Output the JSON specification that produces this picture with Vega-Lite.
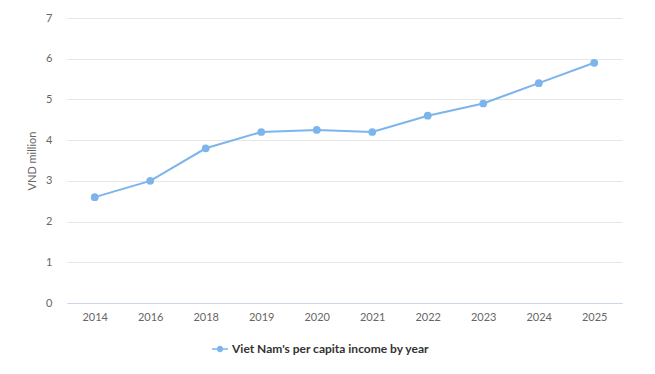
{
  "$schema": "https://vega.github.io/schema/vega-lite/v6.json",
  "width": 555,
  "height": 285,
  "autosize": "none",
  "padding": {"left": 67, "top": 18, "right": 33, "bottom": 71},
  "background": "#ffffff",
  "config": {
    "view": {"stroke": null},
    "font": "Lato"
  },
  "data": {
    "values": [
      {"year": "2014", "value": 2.6, "series": "Viet Nam's per capita income by year"},
      {"year": "2016", "value": 3.0, "series": "Viet Nam's per capita income by year"},
      {"year": "2018", "value": 3.8, "series": "Viet Nam's per capita income by year"},
      {"year": "2019", "value": 4.2, "series": "Viet Nam's per capita income by year"},
      {"year": "2020", "value": 4.25, "series": "Viet Nam's per capita income by year"},
      {"year": "2021", "value": 4.2, "series": "Viet Nam's per capita income by year"},
      {"year": "2022", "value": 4.6, "series": "Viet Nam's per capita income by year"},
      {"year": "2023", "value": 4.9, "series": "Viet Nam's per capita income by year"},
      {"year": "2024", "value": 5.4, "series": "Viet Nam's per capita income by year"},
      {"year": "2025", "value": 5.9, "series": "Viet Nam's per capita income by year"}
    ]
  },
  "mark": {"type": "line", "strokeWidth": 2, "point": {"filled": true, "size": 60, "opacity": 1}},
  "encoding": {
    "x": {
      "field": "year",
      "type": "ordinal",
      "sort": null,
      "scale": {"type": "point", "padding": 0.5},
      "axis": {
        "title": null,
        "labelAngle": 0,
        "labelFontSize": 11,
        "labelColor": "#666666",
        "labelPadding": 8,
        "ticks": false,
        "domainColor": "#ccd6eb",
        "grid": false
      }
    },
    "y": {
      "field": "value",
      "type": "quantitative",
      "scale": {"domain": [0, 7], "nice": false},
      "axis": {
        "title": "VND million",
        "titleFontSize": 11,
        "titleFontWeight": "normal",
        "titleColor": "#666666",
        "titlePadding": 8,
        "values": [0, 1, 2, 3, 4, 5, 6, 7],
        "labelFontSize": 11,
        "labelColor": "#666666",
        "labelPadding": 15,
        "ticks": false,
        "domain": false,
        "gridColor": "#e6e6e6",
        "gridWidth": 1
      }
    },
    "color": {
      "field": "series",
      "type": "nominal",
      "scale": {"range": ["#7cb5ec"]},
      "legend": {
        "title": null,
        "orient": "none",
        "legendX": 145,
        "legendY": 323,
        "symbolType": "M-1,-0.1H1V0.1H-1Z M-0.4,0A0.4,0.4 0 1,1 0.4,0A0.4,0.4 0 1,1 -0.4,0Z",
        "symbolFillColor": "#7cb5ec",
        "symbolStrokeWidth": 0,
        "symbolSize": 256,
        "labelFontSize": 12,
        "labelFontWeight": "bold",
        "labelColor": "#333333",
        "labelOffset": 4,
        "labelLimit": 0
      }
    }
  }
}
